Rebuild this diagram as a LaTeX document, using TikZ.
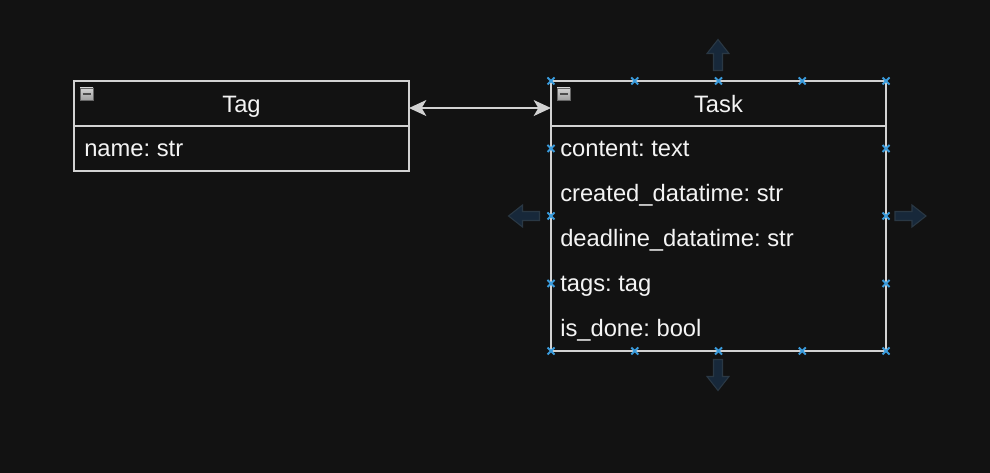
\documentclass[tikz,border=0pt]{standalone}
\usepackage{fontspec}
\setmainfont{Liberation Sans}
\usetikzlibrary{arrows.meta,positioning}
\frenchspacing

\definecolor{bgcol}{HTML}{121212}
\definecolor{linecol}{HTML}{D2D2D2}
\definecolor{txtcol}{HTML}{F4F4F4}
\definecolor{handlecol}{HTML}{3A9BDC}
\definecolor{hoverfill}{HTML}{17283A}
\definecolor{hoverline}{HTML}{2A3844}

\tikzset{
  head/.style={draw=linecol, line width=1pt, minimum width=251.25pt, outer sep=0pt,
    minimum height=33.75pt, inner sep=0pt, text height=13.5pt, text depth=0pt},
  body/.style={draw=linecol, line width=1pt, minimum width=251.25pt, inner sep=0pt,
    outer sep=0pt},
  row/.style={anchor=base west, inner sep=0pt},
  conn/.style={draw=linecol, line width=1.1pt,
    {Stealth[length=13pt,width=12pt,inset=3.5pt]}-{Stealth[length=13pt,width=12pt,inset=3.5pt]}},
  handle/.style={draw=handlecol, line width=1.5pt},
  hover/.style={fill=hoverfill, draw=hoverline, line width=0.8pt}
}

\begin{document}
\begin{tikzpicture}[x=0.75pt,y=-0.75pt, font=\fontsize{17.8}{21}\selectfont, text=txtcol]
  \fill[bgcol] (0,0) rectangle (990,473) ;
  \useasboundingbox (0,0) rectangle (990,473) ;

  % Tag class
  \node[head] (tagHead) at (241.5,103.5) {Tag} ;
  \node[body, minimum height=33.75pt, below=0pt of tagHead] (tagBody) {} ;
  \node[row] (tagName) at (84,157) {name: str} ;

  % Task class
  \node[head] (taskHead) at (718.5,103.5) {Task} ;
  \node[body, minimum height=168.75pt, below=0pt of taskHead] (taskBody) {} ;
  \foreach \txt [count=\i from 0] in {content: text, created\_datatime: str,
      deadline\_datatime: str, tags: tag, is\_done: bool}
    \node[row] (taskRow\i) at (560,157+45*\i) {\txt} ;

  % association
  \draw[conn] ([yshift=-3.4pt]tagHead.east) -- ([yshift=-3.4pt]taskHead.west) ;

  % collapse buttons
  \foreach \bx in {80,557} {
    \draw[draw=gray!80!black, top color=gray!35, bottom color=gray!75, line width=0.6pt]
      (\bx,88) rectangle (\bx+13,100) ;
    \draw[line width=1.2pt, black!70] (\bx+2.5,94) -- (\bx+10.5,94) ;
  }

  % selection handles
  \foreach \hx in {551,634.75,718.5,802.25,886}
    \foreach \hy in {81,351}
      \draw[handle] (\hx-3.5,\hy-3.5) -- (\hx+3.5,\hy+3.5) (\hx-3.5,\hy+3.5) -- (\hx+3.5,\hy-3.5) ;
  \foreach \hx in {551,886}
    \foreach \hy in {148.5,216,283.5}
      \draw[handle] (\hx-3.5,\hy-3.5) -- (\hx+3.5,\hy+3.5) (\hx-3.5,\hy+3.5) -- (\hx+3.5,\hy-3.5) ;

  % hover arrows
  \foreach \ax/\ay/\rot in {718/55/90, 718/375/-90, 524/216/180, 910.5/216/0}
    \draw[hover, shift={(\ax,\ay)}, rotate=\rot]
      (-15.5,-4.5) -- (1.5,-4.5) -- (1.5,-11) -- (15.5,0) -- (1.5,11) -- (1.5,4.5)
      -- (-15.5,4.5) -- cycle ;
\end{tikzpicture}
\end{document}
